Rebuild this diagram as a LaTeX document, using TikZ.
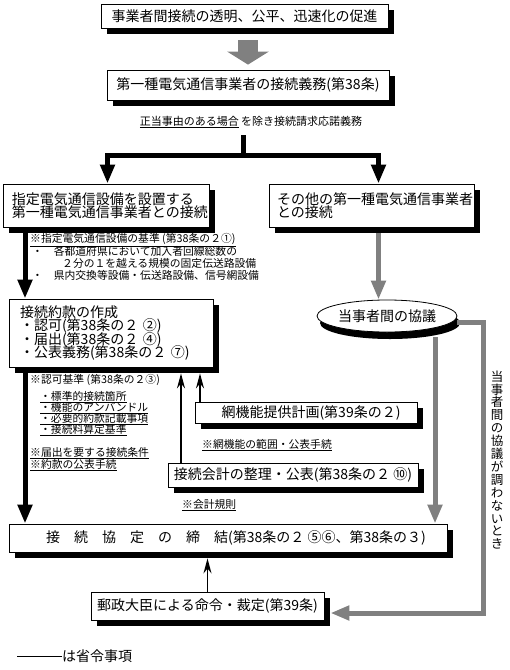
\documentclass[tikz,border=0pt]{standalone}
\usepackage{fontspec}
\setmainfont{Noto Sans CJK JP}
\usetikzlibrary{arrows.meta,shadows,shapes.geometric,calc}

\definecolor{linegray}{gray}{0.5}
\newcommand{\boxfont}{\fontsize{14}{13.5}\selectfont\lineskiplimit=-\maxdimen}
\newcommand{\notefont}{\fontsize{10.8}{12}\selectfont}
\newcommand{\vertfont}{\fontsize{12.5}{12.9}\selectfont\lineskiplimit=-\maxdimen}

\tikzset{
  box/.style={draw, fill=white, line width=0.8pt, inner sep=0pt, font=\boxfont,
    drop shadow={shadow xshift=6pt, shadow yshift=-6pt, fill=black, opacity=1}},
  leftbox/.style={box, align=left},
  note/.style={font=\notefont, inner sep=0pt, anchor=west},
  mainline/.style={line width=5pt, -{Triangle[width=14pt,length=19pt]}},
  grayline/.style={line width=5pt, linegray, -{Triangle[width=14pt,length=19pt]}},
  upline/.style={line width=1.5pt, -{Stealth[width=8pt,length=15pt]}},
}

\begin{document}
\begin{tikzpicture}[x=1pt, y=-1pt]
  \useasboundingbox (0,0) rectangle (510,670);

  % columns of the connectors
  \coordinate (colA) at (25,0);
  \coordinate (colB) at (181,0);
  \coordinate (colC) at (200,0);
  \coordinate (colL) at (107.5,0);
  \coordinate (colR) at (378.5,0);
  \coordinate (colG) at (435,0);
  \coordinate (fork) at (243,155.5);
  \coordinate (detour) at (483,613);

  \node[box, minimum width=287pt, minimum height=24pt] (goal) at (244.5,16) {事業者間接続の透明、公平、迅速化の促進};
  \node[box, minimum width=282pt, minimum height=30pt] (duty) at (248,85) {第一種電気通信事業者の接続義務(第38条)};
  \draw[line width=20pt, linegray, -{Triangle[width=41pt,length=13pt]}, shorten <=12pt, shorten >=5pt]
    (duty.north |- goal.south) -- (duty.north);
  \node[font=\fontsize{11}{11}\selectfont, inner sep=0pt] (cond) at (251,122) {\underline{正当事由のある場合} を除き接続請求応諾義務};

  % two kinds of interconnection
  \node[leftbox, text width=188pt, inner xsep=9pt, minimum height=43pt] (desig) at (106,205.5) {指定電気通信設備を設置する\\第一種電気通信事業者との接続};
  \node[leftbox, text width=189pt, inner xsep=8pt, minimum height=43pt] (other) at (371.5,205.5) {その他の第一種電気通信事業者\\との接続};
  \draw[line width=5pt, shorten <=7pt] (cond.south -| fork) -- (fork);
  \draw[mainline] (fork) -| (desig.north -| colL);
  \draw[mainline] (fork) -| (other.north -| colR);

  \node[note] (crit) at (30,240) {\underline{※指定電気通信設備の基準 (第38条の２①)}};
  \node[note] (critA) at (32,251) {・　各都道府県において加入者回線総数の};
  \node[note] (critB) at (62,263) {２分の１を越える規模の固定伝送路設備};
  \node[note] (critC) at (32,275) {・　県内交換等設備・伝送路設備、信号網設備};

  % tariff
  \node[leftbox, text width=182pt, inner xsep=11pt, minimum height=68pt] (tariff) at (111,333) {接続約款の作成\\・認可(第38条の２ ②)\\・届出(第38条の２ ④)\\・公表義務(第38条の２ ⑦)};
  \draw[mainline] (desig.south -| colA) -- (tariff.north -| colA);

  \node[note] (appr) at (30,380) {※認可基準 (第38条の２③)};
  \node[note] (apprA) at (40,397) {\underline{・標準的接続箇所}};
  \node[note] (apprB) at (40,408) {\underline{・機能のアンバンドル}};
  \node[note] (apprC) at (40,419) {\underline{・必要的約款記載事項}};
  \node[note] (apprD) at (40,430) {\underline{・接続料算定基準}};
  \node[note] (filing) at (30,453) {\underline{※届出を要する接続条件}};
  \node[note] (publ) at (30,465) {\underline{※約款の公表手続}};

  \node[box, minimum width=222pt, minimum height=21pt] (plan) at (306,412.5) {\hspace*{10pt}網機能提供計画(第39条の２)};
  \node[note] (planN) at (202,445) {\underline{※網機能の範囲・公表手続}};
  \node[box, minimum width=250pt, minimum height=24pt] (acct) at (293,475) {接続会計の整理・公表(第38条の２ ⑩)};
  \node[note] (acctN) at (182,505) {\underline{※会計規則}};
  \draw[upline, shorten >=6pt] (acct.north -| colB) -- (tariff.south -| colB);
  \draw[upline, shorten >=6pt] (plan.north -| colC) -- (tariff.south -| colC);

  % talks between the parties
  \node[ellipse, draw, fill=white, line width=0.8pt, minimum width=140pt, minimum height=32pt, inner sep=0pt, font=\boxfont,
    drop shadow={shadow xshift=3pt, shadow yshift=-7pt, fill=black, opacity=1}] (talks) at (387,316) {当事者間の協議};
  \draw[grayline, shorten <=6pt] (other.south -| colR) -- (talks.north -| colR);

  % agreement and order
  \node[box, minimum width=438pt, minimum height=28pt] (agree) at (228,538) {\hspace*{16pt}接　続　協　定　の　締　結(第38条の２ ⑤⑥、第38条の３)};
  \node[box, minimum width=233pt, minimum height=28pt] (order) at (207.5,606) {郵政大臣による命令・裁定(第39条)};
  \draw[mainline] (tariff.south -| colA) -- (agree.north -| colA);
  \draw[grayline, shorten <=5pt] (talks.south -| colG) -- (agree.north -| colG);
  \draw[grayline] ($(talks.east)+(0,6)$) -| (detour) -- ($(order.east |- detour)+(6,0)$);
  \draw[upline, shorten >=6pt] (order.north) -- (agree.south -| order.north);
  \node[font=\vertfont, align=center, inner sep=0pt] (why) at (497,460)
    {当\\事\\者\\間\\の\\協\\議\\が\\調\\わ\\な\\い\\と\\き};

  \node[font=\boxfont, inner sep=0pt, anchor=west] (legend) at (62,656) {は省令事項};
  \draw[line width=0.8pt] (legend.west) -- ++(-45,0);
\end{tikzpicture}
\end{document}
